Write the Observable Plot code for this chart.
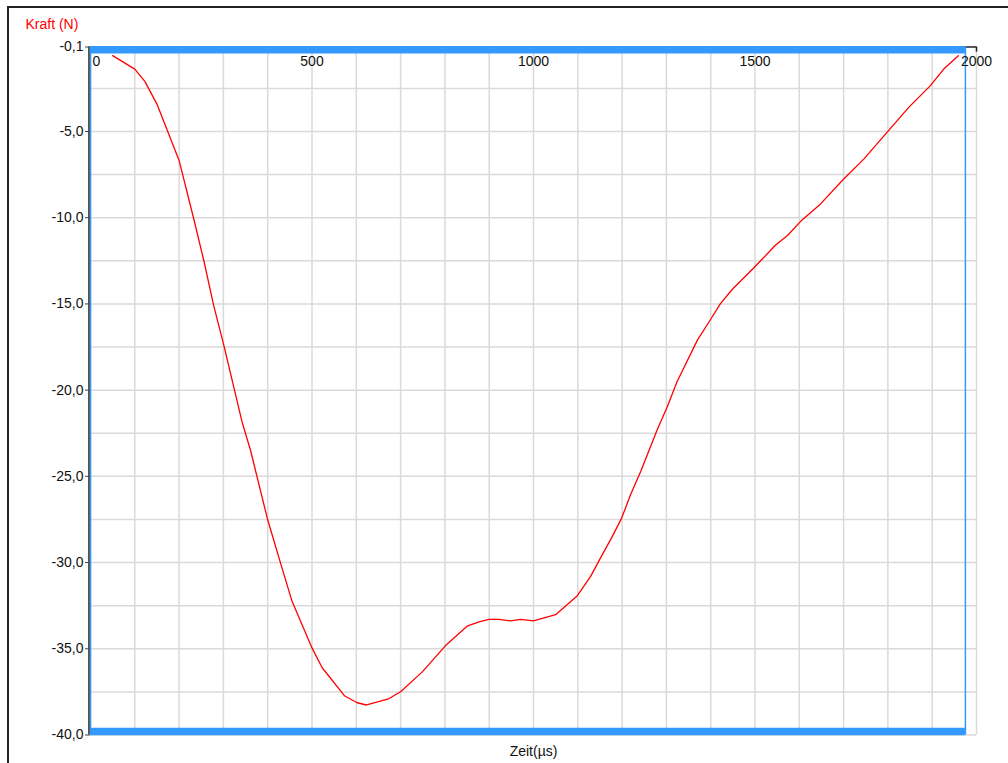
<!DOCTYPE html>
<html><head><meta charset="utf-8">
<script src="https://cdn.jsdelivr.net/npm/d3@7"></script>
<script src="https://cdn.jsdelivr.net/npm/@observablehq/plot@0.6"></script>
<style>
body{margin:0;background:#fff;}
#wrap{position:relative;width:1008px;height:763px;overflow:hidden;}
#border{position:absolute;left:7px;top:6px;width:1100px;height:900px;border-left:2px solid #222;border-top:2px solid #222;}
#chart{position:absolute;left:0;top:0;}
</style></head><body>
<div id="wrap"><div id="border"></div><div id="chart"></div></div>
<script>
const timeUs = [50,100,123,150,175,200,233,256,278,301,342,361,400,429,455,500,523,574,602,623,673,700,749,801,850,877,899,922,948,971,1000,1050,1099,1129,1151,1178,1199,1219,1242,1279,1302,1324,1370,1400,1422,1449,1497,1546,1574,1603,1648,1697,1746,1798,1847,1896,1926,1959];
const forceN = [-0.6,-1.38,-2.11,-3.41,-5.05,-6.68,-10.06,-12.51,-15.08,-17.4,-21.83,-23.47,-27.52,-30.03,-32.25,-34.95,-36.1,-37.74,-38.13,-38.26,-37.9,-37.49,-36.34,-34.83,-33.69,-33.44,-33.3,-33.3,-33.38,-33.3,-33.38,-33.02,-31.92,-30.8,-29.74,-28.48,-27.42,-26.07,-24.72,-22.31,-20.96,-19.51,-17.1,-15.89,-14.98,-14.15,-12.92,-11.6,-11.02,-10.21,-9.2,-7.84,-6.59,-5.05,-3.6,-2.34,-1.38,-0.61];
const yTicks = [-0.1,-5,-10,-15,-20,-25,-30,-35,-40];
const xTicks = [0,500,1000,1500,2000];
const xGrid = [0,100,200,300,400,500,600,700,800,900,1000,1100,1200,1300,1400,1500,1600,1700,1800,1900,2000];
const yGrid = [-2.5,-5,-7.5,-10,-12.5,-15,-17.5,-20,-22.5,-25,-27.5,-30,-32.5,-35,-37.5,-40];
const selection = [0,1975];
const yTitle = "Kraft (N)";
const xTitle = "Zeit(µs)";

const data = timeUs.map((t,i)=>({t, f: forceN[i]}));
const fmt = d => d.toFixed(1).replace(".", ",");
const blue = "#3399ff";
const grid = "#dadada";
const font = "'Liberation Sans', Arial, sans-serif";

const chart = Plot.plot({
  width:1008, height:763,
  marginLeft:90, marginRight:32, marginTop:46.5, marginBottom:28.5,
  style:{fontFamily:font, fontSize:"14px", background:"transparent", color:"#111"},
  x:{domain:[0,2000], axis:null},
  y:{domain:[-40,-0.1], axis:null},
  marks:[
    Plot.ruleX(xGrid, {y1:-40, y2:-0.1, stroke:grid, strokeWidth:1.5}),
    Plot.ruleY(yGrid, {x1:0, x2:2000, stroke:grid, strokeWidth:1.5}),
    Plot.ruleY([-0.1], {x1:0, x2:2000, stroke:"#222", strokeWidth:1.5}),
    Plot.ruleX(xTicks, {y1:-0.1, y2:-0.4, stroke:"#222", strokeWidth:1.5}),
    Plot.ruleX([0], {y1:-40, y2:-0.1, stroke:"#555", strokeWidth:2, dx:-1.5}),
    Plot.axisY({ticks:yTicks, tickFormat:fmt, tickSize:5, tickPadding:2, fontSize:14, stroke:"#444", label:null}),
    Plot.line(data, {x:"t", y:"f", stroke:"#ff0000", strokeWidth:1.3}),
    Plot.ruleY([-0.1], {x1:selection[0], x2:selection[1], stroke:blue, strokeWidth:7.5, dy:2.75}),
    Plot.ruleY([-40], {x1:selection[0], x2:selection[1], stroke:blue, strokeWidth:7.5, dy:-3.5}),
    Plot.ruleX(selection, {y1:-40, y2:-0.1, stroke:blue, strokeWidth:1.5}),
    Plot.text(xTicks.slice(0,1), {x:d=>d, text:d=>String(d), frameAnchor:"top", textAnchor:"start", lineAnchor:"middle", dx:2, dy:15, fontSize:14, fill:"#111"}),
    Plot.text(xTicks.slice(1), {x:d=>d, text:d=>String(d), frameAnchor:"top", textAnchor:"middle", lineAnchor:"middle", dy:15, fontSize:14, fill:"#111"}),
    Plot.text([yTitle], {frameAnchor:"top-left", textAnchor:"start", lineAnchor:"middle", dx:-65, dy:-22.5, fontSize:14, fill:"#ff0000"}),
    Plot.text([xTitle], {frameAnchor:"bottom", textAnchor:"middle", lineAnchor:"middle", dy:16.5, fontSize:14, fill:"#111"})
  ]
});
document.getElementById("chart").appendChild(chart);
</script>
</body></html>
